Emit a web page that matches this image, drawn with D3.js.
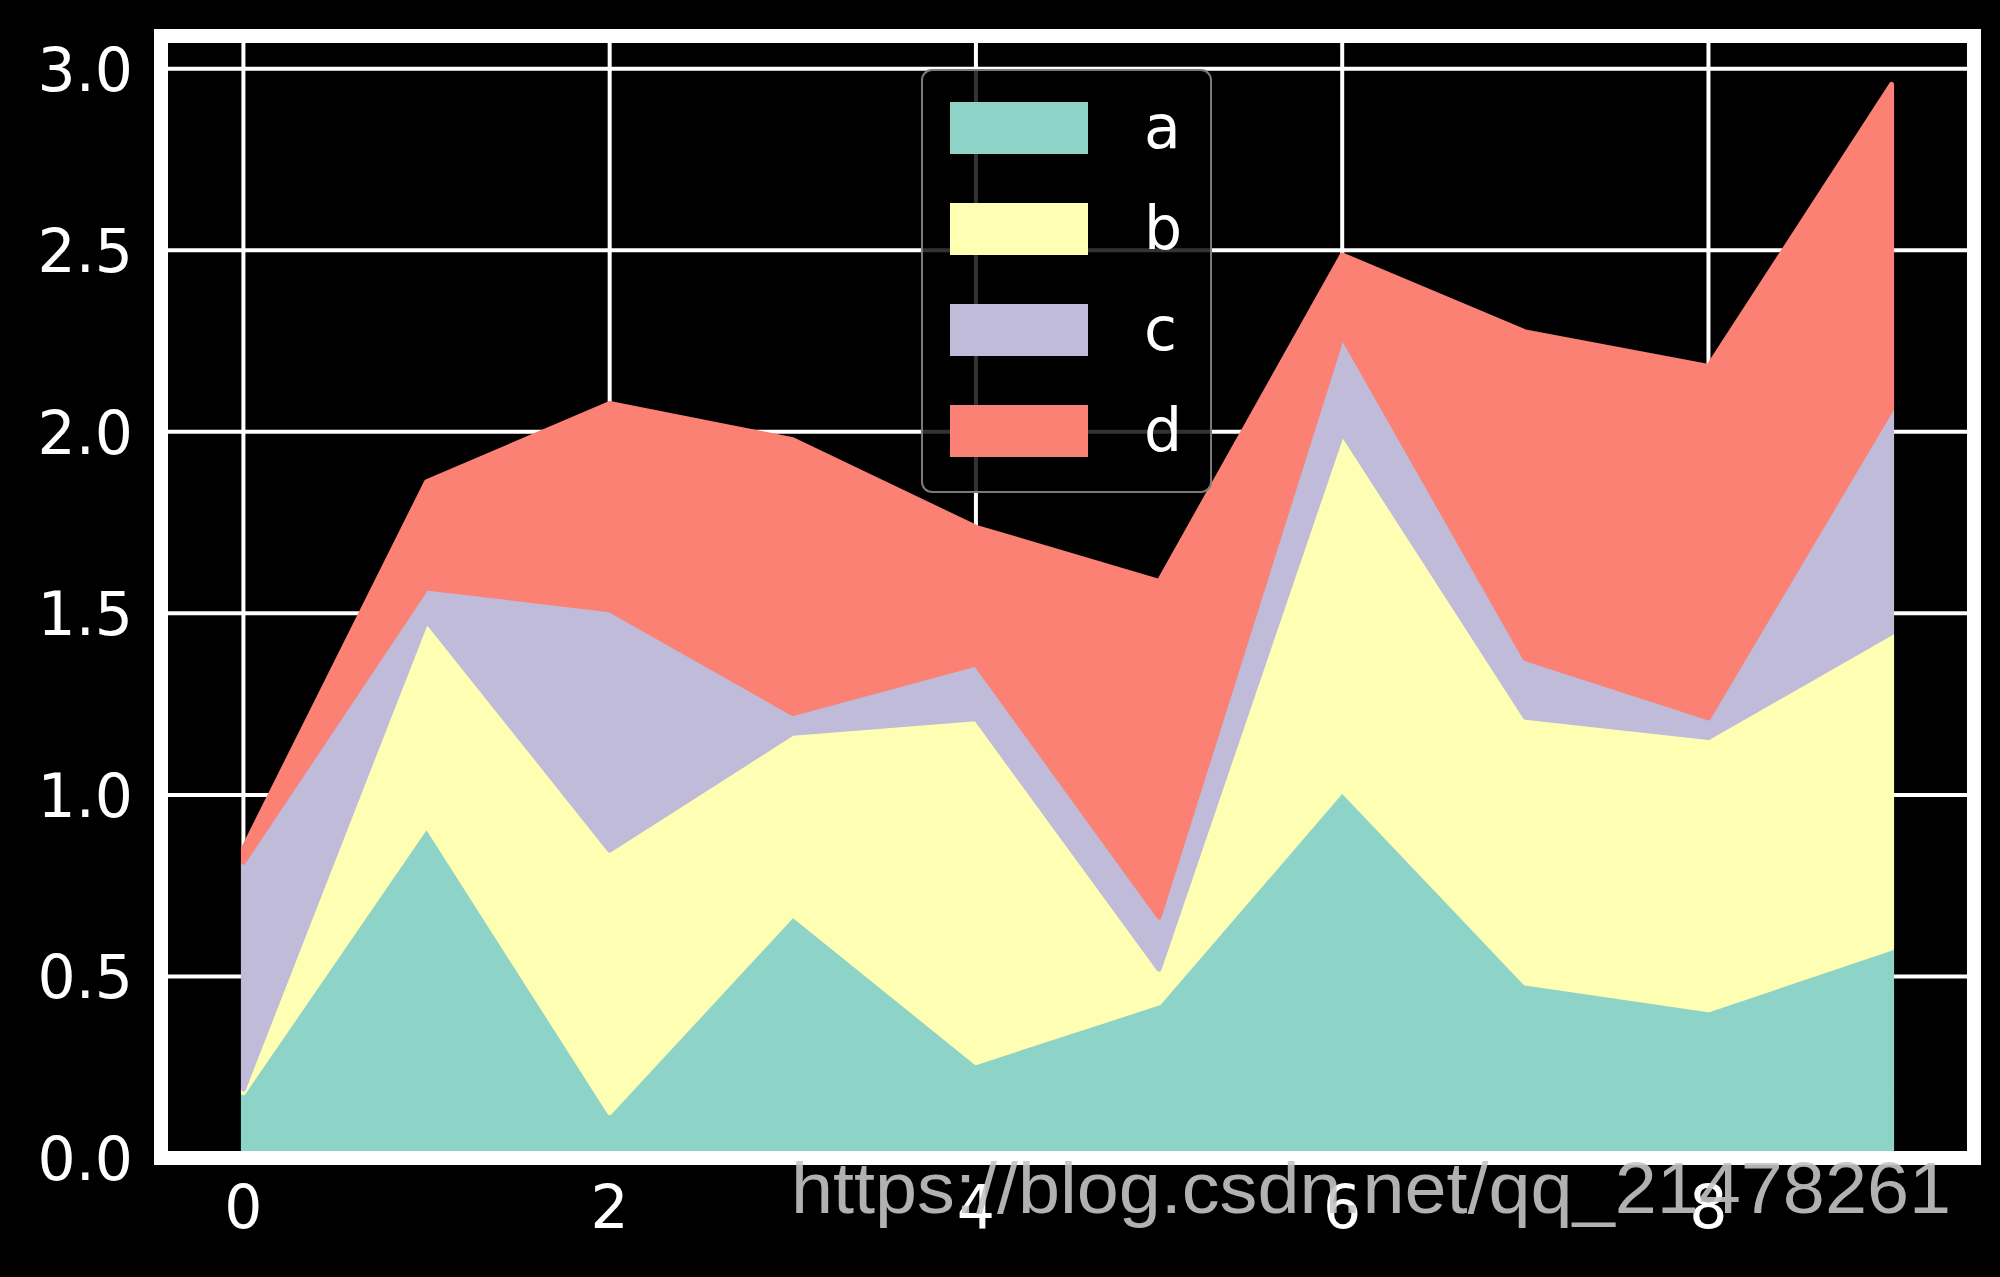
<!DOCTYPE html>
<html>
<head>
<meta charset="utf-8">
<script src="https://cdn.jsdelivr.net/npm/d3@7"></script>
<style>
  html, body { margin: 0; padding: 0; background: #000; }
  svg { display: block; }
</style>
</head>
<body>
<svg id="chart" width="2000" height="1277"></svg>
<script>
// ---- data ----
const xValues = [0, 1, 2, 3, 4, 5, 6, 7, 8, 9];
const seriesKeys = ["a", "b", "c", "d"];
const seriesA = [0.18, 0.915, 0.125, 0.67, 0.263, 0.427, 1.013, 0.482, 0.408, 0.578];
const seriesB = [0.01, 0.565, 0.723, 0.50, 0.947, 0.093, 0.984, 0.732, 0.75, 0.868];
const seriesC = [0.625, 0.09, 0.662, 0.054, 0.15, 0.144, 0.267, 0.161, 0.054, 0.617];
const seriesD = [0.037, 0.292, 0.568, 0.754, 0.377, 0.924, 0.223, 0.90, 0.968, 0.894];
const seriesColors = ["#8dd3c7", "#feffb3", "#bfbbd9", "#fa8174"];
const xTicks = [0, 2, 4, 6, 8];
const yTicks = [0.0, 0.5, 1.0, 1.5, 2.0, 2.5, 3.0];
const watermark = "https://blog.csdn.net/qq_21478261";

// ---- build table ----
const table = xValues.map((x, i) => ({
  x: x, a: seriesA[i], b: seriesB[i], c: seriesC[i], d: seriesD[i]
}));

const svg = d3.select("#chart");
svg.append("rect").attr("width", 2000).attr("height", 1277).attr("fill", "#000");

const box = { left: 161, right: 1974, top: 36, bottom: 1158 };
const x = d3.scaleLinear().domain([-0.45, 9.45]).range([box.left, box.right]);
const y = d3.scaleLinear().domain([0, 3.09]).range([box.bottom, box.top]);

const font = "'DejaVu Sans', sans-serif";

// grid
const grid = svg.append("g");
grid.selectAll("line.gx").data(xTicks).enter().append("line")
  .attr("x1", d => x(d)).attr("x2", d => x(d))
  .attr("y1", box.top).attr("y2", box.bottom)
  .attr("stroke", "#fff").attr("stroke-width", 4);
grid.selectAll("line.gy").data(yTicks).enter().append("line")
  .attr("x1", box.left).attr("x2", box.right)
  .attr("y1", d => y(d)).attr("y2", d => y(d))
  .attr("stroke", "#fff").attr("stroke-width", 4);

// stacked areas
const stack = d3.stack().keys(seriesKeys);
const layers = stack(table);
const area = d3.area()
  .x(d => x(d.data.x))
  .y0(d => y(d[0]))
  .y1(d => y(d[1]))
  .curve(d3.curveLinear);

svg.append("g").selectAll("path").data(layers).enter().append("path")
  .attr("d", area)
  .attr("fill", (d, i) => seriesColors[i])
  .attr("stroke", (d, i) => seriesColors[i])
  .attr("stroke-width", 5)
  .attr("stroke-linejoin", "round");

// frame (spines)
svg.append("rect")
  .attr("x", box.left).attr("y", box.top)
  .attr("width", box.right - box.left).attr("height", box.bottom - box.top)
  .attr("fill", "none").attr("stroke", "#fff").attr("stroke-width", 14);

// y tick labels
svg.append("g").selectAll("text").data(yTicks).enter().append("text")
  .attr("x", 133).attr("y", d => y(d) + 22)
  .attr("text-anchor", "end")
  .attr("font-family", font).attr("font-size", 60).attr("fill", "#fff")
  .text(d => d3.format(".1f")(d));

// x tick labels
svg.append("g").selectAll("text").data(xTicks).enter().append("text")
  .attr("x", d => x(d)).attr("y", 1228)
  .attr("text-anchor", "middle")
  .attr("font-family", font).attr("font-size", 60).attr("fill", "#fff")
  .text(d => d);

// legend
const leg = svg.append("g");
leg.append("rect")
  .attr("x", 922).attr("y", 70).attr("width", 289).attr("height", 422)
  .attr("rx", 10).attr("ry", 10)
  .attr("fill", "#000").attr("fill-opacity", 0.8)
  .attr("stroke", "#7a7a7a").attr("stroke-width", 2);
const legItems = leg.selectAll("g.item").data(seriesKeys).enter().append("g");
legItems.append("rect")
  .attr("x", 950).attr("y", (d, i) => 102 + i * 101)
  .attr("width", 138).attr("height", 52)
  .attr("fill", (d, i) => seriesColors[i]);
legItems.append("text")
  .attr("x", 1144).attr("y", (d, i) => 102 + i * 101 + 26 + 20)
  .attr("font-family", font).attr("font-size", 60).attr("fill", "#fff")
  .text(d => d);

// watermark
svg.append("text")
  .attr("x", 791).attr("y", 1213)
  .attr("font-family", "'Liberation Sans', Arial, sans-serif")
  .attr("font-size", 72)
  .attr("textLength", 1160).attr("lengthAdjust", "spacingAndGlyphs")
  .attr("fill", "#c4c4c4").attr("fill-opacity", 0.9)
  .text(watermark);
</script>
</body>
</html>
